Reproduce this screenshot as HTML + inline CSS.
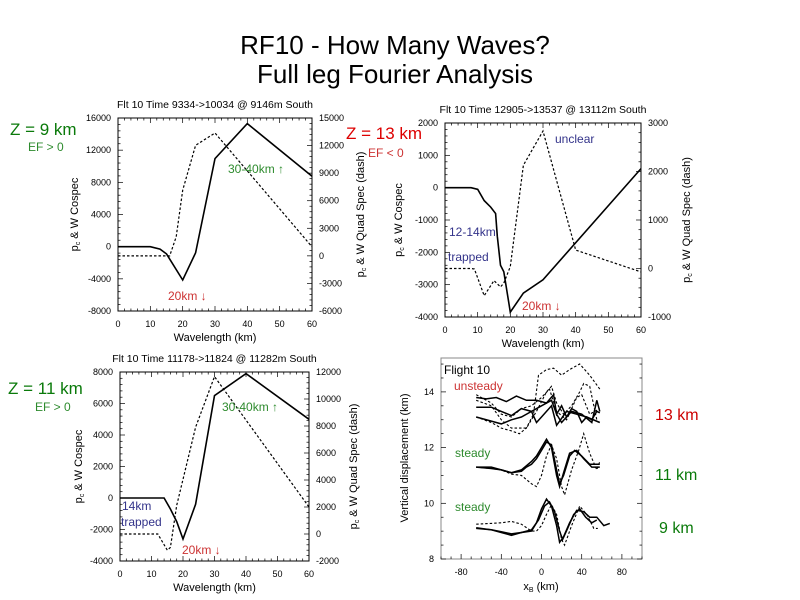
<!DOCTYPE html>
<html><head><meta charset="utf-8">
<style>
body{margin:0;background:#fff;}
svg{display:block;font-family:"Liberation Sans",sans-serif;}
</style></head>
<body>
<svg id="s" width="800" height="600" viewBox="0 0 800 600">
<text x="395" y="54" font-size="26" text-anchor="middle">RF10 - How Many Waves?</text>
<text x="395" y="83" font-size="26" text-anchor="middle">Full leg Fourier Analysis</text>
<g font-size="17" fill="#0a7a0a">
<text x="10" y="135">Z = 9 km</text>
<text x="8" y="394">Z = 11 km</text>
</g>
<text x="346" y="139" font-size="17" fill="#d00">Z = 13 km</text>
<text x="28" y="151" font-size="12" fill="#2e8b2e">EF &gt; 0</text>
<text x="368" y="157" font-size="12" fill="#c33">EF &lt; 0</text>
<text x="35" y="411" font-size="12" fill="#2e8b2e">EF &gt; 0</text>
<text x="655" y="420" font-size="16" fill="#c00">13 km</text>
<text x="655" y="480" font-size="16" fill="#0a7a0a">11 km</text>
<text x="659" y="533" font-size="16" fill="#0a7a0a">9 km</text>
<g id="g"></g>
</svg>
<script>
// ---- Fourier panel data ----
const p1X=[0,10,13,15,20,24,30,40,60];
const p1Co=[0,0,-300,-900,-4150,-760,10950,15300,8760];
const p1QX=[0,15,16,18,20,24,30,60];
const p1Quad=[0,0,0,2070,7140,12030,13370,990];
const p2X=[0,8,10,12,14,15.5,16,17,18,20,24,30,60];
const p2Co=[0,0,-50,-400,-600,-800,-1500,-2400,-2600,-3850,-3260,-2850,590];
const p2QX=[0,8,9,12,15,17,18,20,24,30,40,60];
const p2Quad=[0,0,-10,-560,-250,-380,-300,40,2130,2835,380,-70];
const p3X=[0,14,16,18,20,24,30,40,60];
const p3Co=[0,0,-700,-1500,-2600,-400,6500,7900,5000];
const p3QX=[0,12,15,16,18,24,30,60];
const p3Quad=[0,0,-1200,-1000,2120,7910,11660,2000];
const xTicks=[0,10,20,30,40,50,60];
// ---- displacement panel data ----
const d9aX=[-65,-50,-40,-30,-20,-10,-5,0,5,10,15,18,22,28,35,42,48,55,62,68];
const d9a=[9.12,9.05,8.95,8.85,8.95,9.0,9.3,9.8,10.15,9.9,9.2,8.6,8.8,9.3,9.75,9.7,9.5,9.5,9.2,9.28];
const d9bX=[-65,-50,-40,-30,-20,-10,-3,3,8,13,18,21,26,32,38,44,50,55];
const d9b=[9.1,9.05,8.98,8.9,8.95,9.05,9.4,9.9,10.05,9.7,9.0,8.7,9.1,9.6,9.8,9.5,9.3,9.4];
const d9cX=[-65,-50,-40,-30,-20,-10,-5,0,5,10,15,20,23,30,38,45,52,56];
const d9c=[9.25,9.28,9.3,9.35,9.25,9.0,9.0,9.2,9.6,9.95,9.6,8.7,8.5,9.2,9.9,9.6,9.1,9.1];
const d11aX=[-65,-50,-40,-30,-20,-15,-10,-5,0,5,10,15,18,22,28,33,40,48,55,58];
const d11a=[11.3,11.3,11.2,11.1,11.15,11.3,11.4,11.6,11.9,12.2,12.1,11.2,10.7,11.0,11.7,11.9,11.7,11.4,11.4,11.4];
const d11bX=[-65,-50,-40,-30,-20,-10,-5,0,5,10,15,18,22,28,35,42,50,58];
const d11b=[11.3,11.25,11.2,11.1,11.2,11.5,11.7,12.0,12.3,12.0,11.0,10.6,11.1,11.8,11.9,11.6,11.3,11.3];
const d11cX=[-65,-50,-40,-30,-20,-10,-5,0,5,10,15,20,23,30,37,42,48,55,58];
const d11c=[11.3,11.25,11.2,11.05,11.0,10.7,10.6,11.0,11.7,12.1,11.6,10.6,10.3,11.2,11.9,12.5,11.8,11.2,11.5];
const d13aX=[-65,-55,-45,-35,-25,-15,-5,5,12,15,20,25,30,35,40,45,50,55,58];
const d13a=[13.8,13.75,13.8,13.65,13.85,13.7,13.7,13.6,13.9,13.2,13.5,13.1,13.4,13.3,12.9,13.1,13.0,13.3,13.25];
const d13bX=[-65,-50,-40,-30,-20,-10,0,10,15,20,30,40,50,55,58];
const d13b=[13.45,13.45,13.3,13.15,13.4,13.3,13.5,13.7,13.2,12.9,13.3,13.2,12.9,13.7,13.3];
const d13cX=[-65,-50,-40,-30,-20,-10,-5,0,5,10,15,25,35,45,58];
const d13c=[13.1,12.95,12.85,13.0,13.1,13.3,12.9,13.1,13.3,13.5,12.8,13.3,13.2,13.1,12.9];
const d13dX=[-65,-50,-40,-30,-22,-15,-8,-3,5,12,20,28,38,48,58];
const d13d=[13.1,12.9,12.7,12.6,12.5,12.7,13.2,14.6,14.8,14.85,14.6,14.8,15.0,14.6,14.1];
const d13eX=[-65,-50,-40,-30,-15,-5,5,10,15,22,30,38,42,48,55];
const d13e=[13.7,13.5,13.0,12.7,12.7,13.3,14.0,14.2,13.6,13.2,13.5,14.0,14.3,14.2,13.0];
const d13fX=[-65,-50,-40,-30,-20,-10,0,8,15,25,35,40,48,58];
const d13f=[13.9,13.6,13.2,13.1,13.4,13.5,13.8,14.1,13.3,13.0,13.8,13.9,13.2,13.4];
const dXTicks=[-80,-40,0,40,80];
const dYTicks=[8,10,12,14];

const NS='http://www.w3.org/2000/svg';
const G=document.getElementById('g');
function mk(tag,attrs,parent){const e=document.createElementNS(NS,tag);for(const k in attrs)e.setAttribute(k,attrs[k]);(parent||G).appendChild(e);return e;}
function txt(x,y,s,attrs){const e=mk('text',Object.assign({x:x,y:y},attrs||{}));e.textContent=s;return e;}
function lineFrom(xs,ys,sx,sy,dash,w){
  const d=xs.map((v,i)=>(i?'L':'M')+sx(v).toFixed(1)+','+sy(ys[i]).toFixed(1)).join('');
  const p=mk('path',{d:d,fill:'none',stroke:'#000','stroke-width':w||1.6});
  if(dash)p.setAttribute('stroke-dasharray','2.5,2');
  return p;
}
function fourier(o){
  const sx=v=>o.x0+(v-0)/60*(o.x1-o.x0);
  const sl=v=>o.y1-(v-o.lmin)/(o.lmax-o.lmin)*(o.y1-o.y0);
  const sr=v=>o.y1-(v-o.rmin)/(o.rmax-o.rmin)*(o.y1-o.y0);
  const f=mk('rect',{x:o.x0,y:o.y0,width:o.x1-o.x0,height:o.y1-o.y0,fill:'none',stroke:'#000','stroke-width':1});
  
  
  const t=txt((o.x0+o.x1)/2,o.y0-10,o.title,{'font-size':10.5,'text-anchor':'middle'});
  
  
  for(let v=0;v<=60;v+=2){const L=v%10===0?5:2.5;const X=sx(v);
    mk('line',{x1:X,x2:X,y1:o.y1,y2:o.y1-L,stroke:'#000','stroke-width':.7});
    mk('line',{x1:X,x2:X,y1:o.y0,y2:o.y0+L,stroke:'#000','stroke-width':.7});}
  xTicks.forEach(v=>{const e=txt(sx(v),o.y1+16,String(v),{'font-size':9,'text-anchor':'middle'});
    });
  const xl=txt((o.x0+o.x1)/2,o.y1+30,'Wavelength (km)',{'font-size':11,'text-anchor':'middle'});
  
  const n=o.lTicks.length;
  for(let i=0;i<(n-1)*5;i++){const v=o.lmin+(o.lmax-o.lmin)*i/((n-1)*5);const Y=sl(v);const L=i%5===0?5:2.5;
    mk('line',{x1:o.x0,x2:o.x0+L,y1:Y,y2:Y,stroke:'#000','stroke-width':.7});}
  const m=o.rTicks.length;
  for(let i=0;i<(m-1)*5;i++){const v=o.rmin+(o.rmax-o.rmin)*i/((m-1)*5);const Y=sr(v);const L=i%5===0?5:2.5;
    mk('line',{x1:o.x1,x2:o.x1-L,y1:Y,y2:Y,stroke:'#000','stroke-width':.7});}
  o.lTicks.forEach(v=>{const e=txt(o.x0-7,sl(v)+3,String(v),{'font-size':9,'text-anchor':'end'});
    });
  o.rTicks.forEach(v=>{const e=txt(o.x1+7,sr(v)+3,String(v),{'font-size':9});
    });
  const cy=(o.y0+o.y1)/2;
  const yl=txt(0,0,'',{'font-size':11,'text-anchor':'middle',transform:`translate(${o.ly},${cy}) rotate(-90)`});
  yl.innerHTML='p<tspan font-size="7" dy="2">c</tspan><tspan dy="-2"> &amp; W Cospec</tspan>';
  
  const yr=txt(0,0,'',{'font-size':11,'text-anchor':'middle',transform:`translate(${o.ry},${cy}) rotate(-90)`});
  yr.innerHTML='p<tspan font-size="7" dy="2">c</tspan><tspan dy="-2"> &amp; W Quad Spec (dash)</tspan>';
  
  const a=lineFrom(o.cx,o.cy,sx,sl,false,1.6);
  
  const b=lineFrom(o.qx,o.qy,sx,sr,true,1.2);
  
}
fourier({name:'z9-panel',x0:118,x1:312,y0:118,y1:311,lmin:-8000,lmax:16000,rmin:-6000,rmax:15000,
  lTicks:[-8000,-4000,0,4000,8000,12000,16000],rTicks:[-6000,-3000,0,3000,6000,9000,12000,15000],
  title:'Flt 10 Time 9334->10034 @ 9146m South',ly:78,ry:364,cx:p1X,cy:p1Co,qx:p1QX,qy:p1Quad});
fourier({name:'z13-panel',x0:445,x1:641,y0:123,y1:317,lmin:-4000,lmax:2000,rmin:-1000,rmax:3000,
  lTicks:[-4000,-3000,-2000,-1000,0,1000,2000],rTicks:[-1000,0,1000,2000,3000],
  title:'Flt 10 Time 12905->13537 @ 13112m South',ly:402,ry:690,cx:p2X,cy:p2Co,qx:p2QX,qy:p2Quad});
fourier({name:'z11-panel',x0:120,x1:309,y0:372,y1:561,lmin:-4000,lmax:8000,rmin:-2000,rmax:12000,
  lTicks:[-4000,-2000,0,2000,4000,6000,8000],rTicks:[-2000,0,2000,4000,6000,8000,10000,12000],
  title:'Flt 10 Time 11178->11824 @ 11282m South',ly:82,ry:357,cx:p3X,cy:p3Co,qx:p3QX,qy:p3Quad});

// displacement panel
(function(){
  const x0=441,x1=642,y0=358,y1=559;
  const sx=v=>x0+(v+100)/200*(x1-x0);
  const sy=v=>y1-(v-8)/2*55.7;
  const f=mk('rect',{x:x0,y:y0,width:x1-x0,height:y1-y0,fill:'none',stroke:'#888','stroke-width':1});
  
  for(let v=-100;v<=100;v+=10){const L=v%40===0?5:2.5;mk('line',{x1:sx(v),x2:sx(v),y1:y1,y2:y1-L,stroke:'#000','stroke-width':.7});}
  for(let v=8;v<=15;v+=0.5){const L=v%2===0?5:2.5;mk('line',{x1:x0,x2:x0+L,y1:sy(v),y2:sy(v),stroke:'#000','stroke-width':.7});mk('line',{x1:x1,x2:x1-L,y1:sy(v),y2:sy(v),stroke:'#000','stroke-width':.7});}
  dXTicks.forEach(v=>{const e=txt(sx(v),y1+16,String(v),{'font-size':9,'text-anchor':'middle'});
    });
  dYTicks.forEach(v=>{const e=txt(x0-7,sy(v)+3,String(v),{'font-size':9,'text-anchor':'end'});
    });
  const xl=txt(541,590,'',{'font-size':11,'text-anchor':'middle'});
  xl.innerHTML='x<tspan font-size="7" dy="2">B</tspan><tspan dy="-2"> (km)</tspan>';
  
  const yl=txt(0,0,'Vertical displacement (km)',{'font-size':11,'text-anchor':'middle',transform:'translate(408,458) rotate(-90)'});
  
  const S=[[d9aX,d9a,0],[d9bX,d9b,0],[d9cX,d9c,1],[d11aX,d11a,0],[d11bX,d11b,0],[d11cX,d11c,1],
    [d13aX,d13a,0],[d13bX,d13b,0],[d13cX,d13c,0],[d13dX,d13d,1],[d13eX,d13e,1],[d13fX,d13f,1]];
  S.forEach(s=>{const p=lineFrom(s[0],s[1],sx,sy,!!s[2],s[2]?1.1:1.5);
    });
})();

// annotations
const ann=[
 [228,173,'30-40km ↑','#2e8b2e','ann-30-40-z9'],[168,300,'20km ↓','#c33','ann-20-z9'],
 [555,143,'unclear','#33338a','ann-unclear'],[449,236,'12-14km','#33338a','ann-12-14'],
 [448,261,'trapped','#33338a','ann-trapped-z13'],[522,310,'20km ↓','#c33','ann-20-z13'],
 [222,411,'30-40km ↑','#2e8b2e','ann-30-40-z11'],[122,510,'14km','#33338a','ann-14km'],
 [121,526,'trapped','#33338a','ann-trapped-z11'],[182,554,'20km ↓','#c33','ann-20-z11'],
 [444,374,'Flight 10','#000','ann-flight10'],[454,390,'unsteady','#c33','ann-unsteady'],
 [455,457,'steady','#2e8b2e','ann-steady-11'],[455,511,'steady','#2e8b2e','ann-steady-9']];
ann.forEach(a=>{const e=txt(a[0],a[1],a[2],{'font-size':12,fill:a[3]});
  
  });
</script>
</body></html>
